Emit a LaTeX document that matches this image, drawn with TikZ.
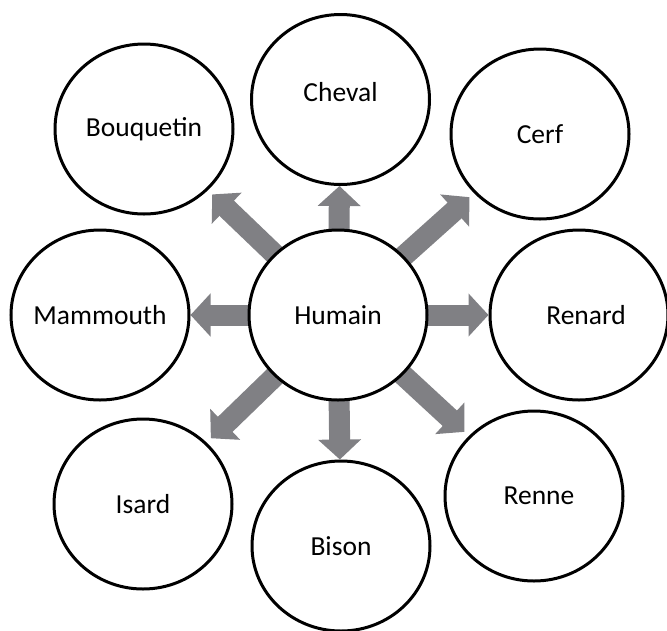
\documentclass[tikz,border=0pt]{standalone}
\usepackage{fontspec}
\setmainfont{Carlito}
\usetikzlibrary{arrows.meta,shapes.geometric,backgrounds}
\definecolor{arrowgray}{RGB}{128,128,132}
\tikzset{
  animal/.style = {ellipse, draw=black, line width=3pt, fill=white, minimum width=178pt, minimum height=170pt, inner sep=0pt},
  link/.style = {draw=arrowgray, line width=21pt, -{Triangle[width=42pt,length=20pt]}},
  diag/.style = {link, shorten >=6pt},
}

\begin{document}
\begin{tikzpicture}[x=1pt, y=-1pt, font=\fontsize{27.5}{33}\selectfont]
\useasboundingbox (0,0) rectangle (667,630);

% centre
\node[animal, label=center:Humain] (humain) at (338,315) {};

% animals around
\node[animal, label=center:Bouquetin] (bouquetin) at (144,129) {};
\node[animal, label={[yshift=7pt]center:Cheval}] (cheval) at (340.5,99.5) {};
\node[animal, label=center:Cerf] (cerf) at (540,134) {};
\node[animal, label=center:Mammouth] (mammouth) at (100,315) {};
\node[animal, label={[xshift=7pt]center:Renard}] (renard) at (579,315) {};
\node[animal, label=center:Isard] (isard) at (143,504) {};
\node[animal, label=center:Bison] (bison) at (341,546) {};
\node[animal, label={[xshift=5pt]center:Renne}] (renne) at (534,496) {};

% arrows behind the circles
\begin{scope}[on background layer]
  \draw[link] (humain.center) -- (cheval);
  \draw[link] (humain.center) -- (renard);
  \draw[link] (humain.center) -- (bison);
  \draw[link] (humain.center) -- (mammouth);
  \draw[diag] (humain.center) -- (bouquetin);
  \draw[diag] (humain.center) -- (cerf);
  \draw[diag] (humain.center) -- (isard);
  \draw[diag] (humain.center) -- (renne);
\end{scope}

\end{tikzpicture}
\end{document}
